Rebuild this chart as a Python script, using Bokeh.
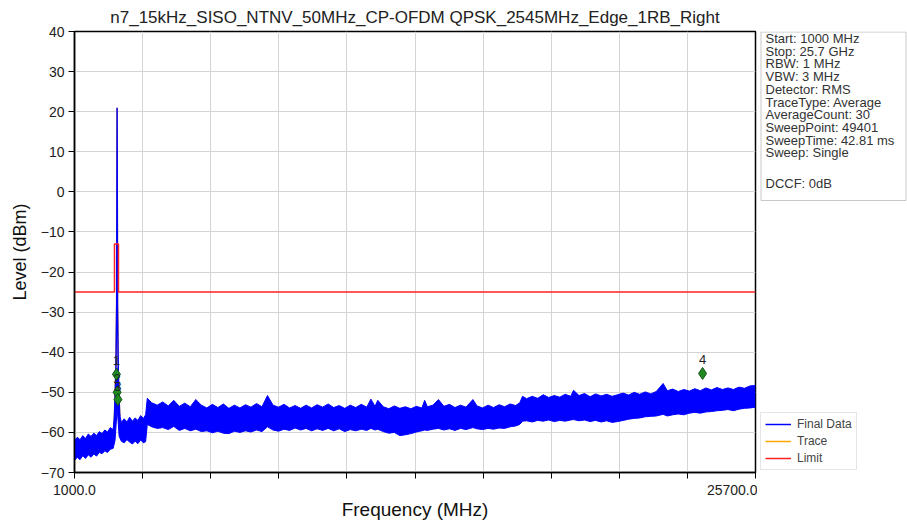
from bokeh.plotting import figure
from bokeh.layouts import row
from bokeh.models import Range1d, FixedTicker, Legend, LegendItem
from bokeh.core.properties import value
from bokeh.embed import file_html
from bokeh.resources import INLINE

TITLE = "n7_15kHz_SISO_NTNV_50MHz_CP-OFDM QPSK_2545MHz_Edge_1RB_Right"
X_TICKS = [1000, 3470, 5940, 8410, 10880, 13350, 15820, 18290, 20760, 23230, 25700]
X_TICK_LABELS = {1000: "1000.0", 25700: "25700.0"}
Y_TICKS = [-70, -60, -50, -40, -30, -20, -10, 0, 10, 20, 30, 40]

# Final Data noise band (envelope), MHz / dBm
noise_freq = [
    1000, 1100, 1200, 1300, 1400, 1500, 1600, 1700, 1800, 1900,
    2000, 2100, 2200, 2300, 2400, 2470, 2510, 2545, 2580, 2620,
    2700, 2800, 2900, 3000, 3100, 3200, 3300, 3400, 3500, 3580,
    3640, 3800, 4000, 4200, 4400, 4600, 4800, 5000, 5200, 5400,
    5600, 5800, 6000, 6200, 6400, 6600, 6800, 7000, 7200, 7400,
    7600, 7800, 8000, 8200, 8400, 8600, 8800, 9000, 9200, 9400,
    9600, 9800, 10000, 10200, 10400, 10600, 10800, 11000, 11200, 11400,
    11600, 11750, 11900, 12000, 12200, 12400, 12600, 12800, 13000, 13200,
    13400, 13600, 13700, 13800, 14000, 14200, 14400, 14600, 14800, 15000,
    15200, 15450, 15600, 15800, 16000, 16200, 16400, 16600, 16800, 17000,
    17150, 17250, 17400, 17600, 17800, 18000, 18200, 18400, 18600, 18800,
    19000, 19100, 19300, 19500, 19700, 19900, 20100, 20300, 20500, 20700,
    20900, 21100, 21300, 21500, 21700, 21900, 22100, 22350, 22500, 22700,
    22900, 23100, 23300, 23500, 23700, 23900, 24100, 24300, 24500, 24700,
    24900, 25100, 25300, 25500, 25700]
noise_upper = [
    -62.0, -61.2, -61.8, -60.8, -61.5, -60.4, -61.0, -60.2, -60.8, -59.8,
    -60.3, -59.4, -59.9, -58.8, -59.3, -55.0, -46.0, -44.0, -47.0, -55.0,
    -57.5, -56.6, -57.4, -56.2, -57.2, -56.4, -57.0, -55.8, -56.5, -55.6,
    -51.5, -52.6, -53.2, -52.4, -53.4, -52.0, -53.5, -52.7, -53.6, -51.8,
    -53.2, -53.9, -53.0, -53.8, -52.9, -54.0, -53.2, -53.9, -53.1, -53.7,
    -52.8, -53.6, -50.8, -53.2, -53.7, -53.0, -53.9, -53.3, -54.0, -53.2,
    -53.9, -53.1, -53.7, -52.9, -53.8, -53.3, -54.0, -53.2, -53.8, -53.0,
    -53.7, -51.7, -53.5, -52.0, -53.6, -54.1, -53.4, -54.0, -53.6, -54.1,
    -53.5, -53.9, -52.0, -53.6, -53.2, -51.8, -53.5, -53.0, -53.8, -53.2,
    -53.7, -51.8, -53.4, -53.9, -53.2, -53.8, -53.1, -53.6, -52.9, -53.3,
    -52.6, -51.0, -51.6, -51.0, -51.5, -50.6, -51.3, -50.8, -51.2, -50.5,
    -51.0, -49.5, -50.8, -50.3, -51.1, -50.4, -50.9, -50.5, -51.0, -50.6,
    -50.2, -50.7, -50.0, -50.5, -49.9, -50.4, -49.8, -47.8, -49.6, -49.2,
    -49.8, -49.3, -49.7, -49.1, -49.6, -48.9, -49.4, -48.8, -49.3, -48.9,
    -49.3, -48.7, -49.0, -48.4, -48.3]
noise_lower = [
    -67.0, -66.2, -66.8, -65.8, -66.5, -65.6, -66.2, -65.4, -65.9, -65.0,
    -65.3, -64.6, -65.0, -64.2, -64.0, -62.0, -58.0, -54.0, -57.0, -61.0,
    -62.2, -62.6, -61.8, -62.4, -62.9, -62.2, -62.8, -61.9, -62.6, -62.3,
    -58.0, -58.6, -59.0, -58.8, -59.3, -58.5, -59.5, -59.0, -59.6, -59.2,
    -59.8, -59.6, -60.1, -59.7, -60.2, -60.3, -59.7, -60.0, -59.6, -59.9,
    -59.4, -59.8, -58.6, -59.4, -59.7, -59.2, -59.5, -58.9, -59.4, -59.0,
    -59.6, -59.1, -59.5, -59.0, -59.6, -59.1, -59.8, -59.3, -59.6, -59.2,
    -59.5, -59.0, -59.4, -59.2, -59.8, -60.2, -60.0, -60.8, -60.6, -60.3,
    -59.9, -59.6, -59.4, -59.5, -59.2, -59.0, -59.4, -59.1, -59.5, -59.0,
    -59.3, -58.8, -59.1, -59.3, -59.0, -59.2, -58.9, -59.0, -58.6, -58.4,
    -58.0, -57.2, -57.1, -57.4, -57.0, -57.2, -56.9, -57.3, -57.0, -57.2,
    -56.9, -56.8, -57.1, -56.9, -57.3, -57.0, -57.4, -57.1, -57.5, -57.3,
    -57.0, -56.7, -56.5, -56.4, -56.1, -56.0, -55.9, -55.5, -55.9, -55.6,
    -55.4, -55.6, -55.2, -55.0, -55.2, -54.9, -54.8, -54.6, -54.5, -54.3,
    -54.6, -54.2, -54.0, -53.9, -53.7]
assert len(noise_freq) == len(noise_upper) == len(noise_lower)

# Carrier peak of Final Data / Trace
carrier_freq = [2440, 2500, 2530, 2545, 2560, 2590, 2640]
carrier_level = [-58, -45, -28, 21, -28, -46, -56]

# Limit line
limit_freq = [1000, 2450, 2450, 2595, 2595, 25700]
limit_level = [-25, -25, -13, -13, -25, -25]

# Markers
marker_ids = ["1", "2", "3", "4"]
marker_freq = [2520, 2545, 2575, 23780]
marker_level = [-45.5, -50.0, -51.8, -45.3]

legend_labels = ["Final Data", "Trace", "Limit"]
legend_colors = ["#0000ff", "orange", "#ff2020"]

info_lines = ["Start: 1000 MHz", "Stop: 25.7 GHz", "RBW: 1 MHz", "VBW: 3 MHz",
              "Detector: RMS", "TraceType: Average", "AverageCount: 30",
              "SweepPoint: 49401", "SweepTime: 42.81 ms", "Sweep: Single"]
info_footer = "DCCF: 0dB"

FONT = "Liberation Sans"
BLUE = "#0000ff"
FH = 441          # frame height (px)
TOP = 31          # space above frame
BOTTOM = 50       # space below frame

p = figure(frame_width=681, frame_height=FH, output_backend="svg",
           toolbar_location=None, title=TITLE,
           x_range=Range1d(1000, 25700), y_range=Range1d(-70, 40),
           min_border_left=74, min_border_right=2, min_border_top=0,
           min_border_bottom=BOTTOM, background_fill_color="white",
           border_fill_color="white")

p.title.text_font = FONT
p.title.text_font_size = "17px"
p.title.text_font_style = "normal"
p.title.align = "center"
p.title.text_color = "#222222"
p.title.standoff = 10

p.outline_line_color = "black"
p.outline_line_width = 1.5

p.xaxis.ticker = FixedTicker(ticks=X_TICKS)
p.xaxis.major_label_overrides = {t: X_TICK_LABELS.get(t, "") for t in X_TICKS}
p.yaxis.ticker = FixedTicker(ticks=Y_TICKS)
p.xaxis.axis_label = "Frequency (MHz)"
p.yaxis.axis_label = "Level (dBm)"
for ax in (p.xaxis, p.yaxis):
    ax.axis_label_text_font = FONT
    ax.axis_label_text_font_style = "normal"
    ax.axis_label_text_color = "#111111"
    ax.major_label_text_font = FONT
    ax.major_label_text_font_size = "14px"
    ax.major_label_text_color = "#222222"
    ax.axis_line_color = "black"
    ax.axis_line_width = 1.5
    ax.major_tick_line_color = "black"
    ax.major_tick_out = 6
    ax.major_tick_in = 0
    ax.minor_tick_line_color = None
p.xaxis.axis_label_text_font_size = "19px"
p.yaxis.axis_label_text_font_size = "18px"
p.xaxis.major_label_standoff = 6
p.xaxis.axis_label_standoff = 1
p.yaxis.major_label_standoff = 4
p.yaxis.axis_label_standoff = 8

p.grid.grid_line_color = "#d4d4d4"
p.grid.grid_line_width = 1

p.line(carrier_freq, carrier_level, line_color="orange", line_width=1.5)
p.varea(x=noise_freq, y1=noise_lower, y2=noise_upper, fill_color=BLUE)
p.line(noise_freq, noise_upper, line_color=BLUE, line_width=1)
p.line(noise_freq, noise_lower, line_color=BLUE, line_width=1)
p.line(carrier_freq, carrier_level, line_color=BLUE, line_width=1.5)
p.line(limit_freq, limit_level, line_color="#ff2020", line_width=1.5)

p.scatter(marker_freq, marker_level, marker="diamond", size=12,
          fill_color="#1f8a1f", line_color="#145214")
p.text(marker_freq, marker_level, text=marker_ids, text_align="center",
       text_baseline="bottom", y_offset=-9, text_font=value(FONT),
       text_font_size="13px", text_color="#222222")

# Side panel (settings box + legend); its frame lines up with the main frame,
# one data unit = one pixel, y = 0 at the frame bottom.
W2 = 150
q = figure(frame_width=W2, frame_height=FH, output_backend="svg",
           toolbar_location=None, x_range=Range1d(0, W2), y_range=Range1d(0, FH),
           x_axis_type=None, y_axis_type=None, min_border_left=0,
           min_border_right=0, min_border_top=TOP, min_border_bottom=BOTTOM,
           outline_line_color=None, background_fill_color="white",
           border_fill_color="white")
q.grid.visible = False

q.quad(left=[3.5], right=[148.5], top=[FH - 0.5], bottom=[FH - 169],
       fill_color="white", line_color="#c8c8c8", line_width=1)
info_y = [FH - 7 - 12.7 * i for i in range(len(info_lines))]
q.text(x=[8] * len(info_lines), y=info_y, text=info_lines,
       text_baseline="middle", text_font=value(FONT), text_font_size="13px",
       text_color="#333333")
q.text(x=[8], y=[FH - 152], text=[info_footer], text_baseline="middle",
       text_font=value(FONT), text_font_size="13px", text_color="#333333")

items = []
for lab, col in zip(legend_labels, legend_colors):
    r = q.line(x=[-20, -10], y=[-20, -20], line_color=col, line_width=1.5)
    items.append(LegendItem(label=lab, renderers=[r]))
legend = Legend(items=items, location=(3, 2))
legend.label_text_font = FONT
legend.label_text_font_size = "12px"
legend.glyph_width = 26
legend.glyph_height = 14
legend.label_height = 14
legend.spacing = 3
legend.padding = 4
legend.margin = 0
legend.label_standoff = 6
legend.border_line_color = "#cccccc"
legend.background_fill_color = "white"
q.add_layout(legend)

layout = row(p, q, spacing=0)
open("out.html", "w").write(file_html(layout, INLINE))
